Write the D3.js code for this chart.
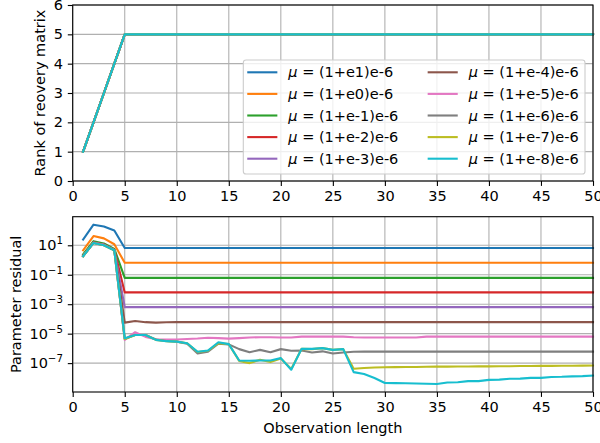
<!DOCTYPE html>
<html>
<head>
<meta charset="utf-8">
<script src="https://cdn.jsdelivr.net/npm/d3@7"></script>
<style>
    body { margin: 0; background: #fff; }
    svg { font-family: "DejaVu Sans", sans-serif; }
</style>
</head>
<body>
<div id="chart"></div>
<script>
// observation lengths (x values)
const obsLength = [1, 2, 3, 4, 5, 6, 7, 8, 9, 10,
    11, 12, 13, 14, 15, 16, 17, 18, 19, 20,
    21, 22, 23, 24, 25, 26, 27, 28, 29, 30,
    31, 32, 33, 34, 35, 36, 37, 38, 39, 40,
    41, 42, 43, 44, 45, 46, 47, 48, 49, 50]

// rank of recovery matrix, same for every mu
const rankOfRecovery = [1, 2, 3, 4, 5, 5, 5, 5, 5, 5,
    5, 5, 5, 5, 5, 5, 5, 5, 5, 5,
    5, 5, 5, 5, 5, 5, 5, 5, 5, 5,
    5, 5, 5, 5, 5, 5, 5, 5, 5, 5,
    5, 5, 5, 5, 5, 5, 5, 5, 5, 5]

const muLabels = ["(1+e1)e-6", "(1+e0)e-6", "(1+e-1)e-6", "(1+e-2)e-6", "(1+e-3)e-6",
    "(1+e-4)e-6", "(1+e-5)e-6", "(1+e-6)e-6", "(1+e-7)e-6", "(1+e-8)e-6"]

// parameter residual, stored as log10 values
const residualLogE1 = [1.39, 2.40, 2.28, 2.01, 0.82, 0.82, 0.82, 0.82, 0.82, 0.82,
    0.82, 0.82, 0.82, 0.82, 0.82, 0.82, 0.82, 0.82, 0.82, 0.82,
    0.82, 0.82, 0.82, 0.82, 0.82, 0.82, 0.82, 0.82, 0.82, 0.82,
    0.82, 0.82, 0.82, 0.82, 0.82, 0.82, 0.82, 0.82, 0.82, 0.82,
    0.82, 0.82, 0.82, 0.82, 0.82, 0.82, 0.82, 0.82, 0.82, 0.82]
const residualLogE0 = [0.66, 1.63, 1.47, 1.07, -0.19, -0.19, -0.19, -0.19, -0.19, -0.19,
    -0.19, -0.19, -0.19, -0.19, -0.19, -0.19, -0.19, -0.19, -0.19, -0.19,
    -0.19, -0.19, -0.19, -0.19, -0.19, -0.19, -0.19, -0.19, -0.19, -0.19,
    -0.19, -0.19, -0.19, -0.19, -0.19, -0.19, -0.19, -0.19, -0.19, -0.19,
    -0.19, -0.19, -0.19, -0.19, -0.19, -0.19, -0.19, -0.19, -0.19, -0.19]
const residualLogEm1 = [0.38, 1.28, 1.12, 0.76, -1.21, -1.21, -1.21, -1.21, -1.21, -1.21,
    -1.21, -1.21, -1.21, -1.21, -1.21, -1.21, -1.21, -1.21, -1.21, -1.21,
    -1.21, -1.21, -1.21, -1.21, -1.21, -1.21, -1.21, -1.21, -1.21, -1.21,
    -1.21, -1.21, -1.21, -1.21, -1.21, -1.21, -1.21, -1.21, -1.21, -1.21,
    -1.21, -1.21, -1.21, -1.21, -1.21, -1.21, -1.21, -1.21, -1.21, -1.21]
const residualLogEm2 = [0.30, 1.20, 1.06, 0.70, -2.20, -2.20, -2.20, -2.20, -2.20, -2.20,
    -2.20, -2.20, -2.20, -2.20, -2.20, -2.20, -2.20, -2.20, -2.20, -2.20,
    -2.20, -2.20, -2.20, -2.20, -2.20, -2.20, -2.20, -2.20, -2.20, -2.20,
    -2.20, -2.20, -2.20, -2.20, -2.20, -2.20, -2.20, -2.20, -2.20, -2.20,
    -2.20, -2.20, -2.20, -2.20, -2.20, -2.20, -2.20, -2.20, -2.20, -2.20]
const residualLogEm3 = [0.28, 1.18, 1.04, 0.68, -3.20, -3.20, -3.20, -3.20, -3.20, -3.20,
    -3.20, -3.20, -3.20, -3.20, -3.20, -3.20, -3.20, -3.20, -3.20, -3.20,
    -3.20, -3.20, -3.20, -3.20, -3.20, -3.20, -3.20, -3.20, -3.20, -3.20,
    -3.20, -3.20, -3.20, -3.20, -3.20, -3.20, -3.20, -3.20, -3.20, -3.20,
    -3.20, -3.20, -3.20, -3.20, -3.20, -3.20, -3.20, -3.20, -3.20, -3.20]
const residualLogEm4 = [0.27, 1.17, 1.03, 0.67, -4.25, -4.14, -4.22, -4.25, -4.23, -4.22,
    -4.22, -4.22, -4.22, -4.22, -4.22, -4.22, -4.22, -4.22, -4.22, -4.22,
    -4.22, -4.22, -4.22, -4.22, -4.22, -4.22, -4.22, -4.22, -4.22, -4.22,
    -4.22, -4.22, -4.22, -4.22, -4.22, -4.22, -4.22, -4.22, -4.22, -4.22,
    -4.22, -4.22, -4.22, -4.22, -4.22, -4.22, -4.22, -4.22, -4.22, -4.22]
const residualLogEm5 = [0.27, 1.17, 1.03, 0.67, -5.42, -4.90, -5.22, -5.38, -5.40, -5.40,
    -5.36, -5.33, -5.28, -5.30, -5.34, -5.30, -5.26, -5.24, -5.24, -5.26,
    -5.26, -5.20, -5.20, -5.20, -5.20, -5.20, -5.24, -5.26, -5.26, -5.26,
    -5.26, -5.26, -5.26, -5.20, -5.20, -5.20, -5.20, -5.20, -5.20, -5.20,
    -5.20, -5.20, -5.20, -5.20, -5.20, -5.20, -5.20, -5.20, -5.20, -5.20]
const residualLogEm6 = [0.26, 1.16, 1.00, 0.66, -5.36, -5.09, -5.09, -5.40, -5.50, -5.54,
    -5.68, -6.35, -6.22, -5.68, -5.73, -6.05, -6.26, -6.10, -6.26, -6.05,
    -6.16, -6.14, -6.28, -6.20, -6.35, -6.28, -6.23, -6.22, -6.22, -6.22,
    -6.22, -6.22, -6.22, -6.22, -6.22, -6.22, -6.22, -6.22, -6.22, -6.22,
    -6.22, -6.22, -6.22, -6.22, -6.22, -6.22, -6.22, -6.22, -6.22, -6.22]
const residualLogEm7 = [0.26, 1.16, 1.00, 0.66, -5.36, -5.09, -5.09, -5.42, -5.51, -5.54,
    -5.65, -6.25, -6.16, -5.65, -5.71, -6.85, -7.00, -6.77, -6.93, -6.68,
    -7.40, -6.03, -6.05, -5.98, -6.10, -6.05, -7.38, -7.33, -7.30, -7.28,
    -7.27, -7.26, -7.26, -7.25, -7.24, -7.24, -7.23, -7.23, -7.22, -7.22,
    -7.21, -7.21, -7.20, -7.20, -7.19, -7.19, -7.18, -7.18, -7.17, -7.16]
const residualLogEm8 = [0.26, 1.16, 1.00, 0.66, -5.31, -5.09, -5.09, -5.42, -5.51, -5.54,
    -5.65, -6.23, -6.14, -5.58, -5.71, -6.82, -6.84, -6.82, -6.82, -6.66,
    -7.45, -6.03, -6.03, -5.98, -6.10, -6.05, -7.61, -7.74, -8.01, -8.35,
    -8.36, -8.37, -8.38, -8.40, -8.42, -8.32, -8.30, -8.22, -8.22, -8.14,
    -8.12, -8.06, -8.05, -8.00, -8.00, -7.94, -7.93, -7.90, -7.88, -7.84]

const xTicks = [0, 5, 10, 15, 20, 25, 30, 35, 40, 45, 50]
const rankTicks = [0, 1, 2, 3, 4, 5, 6]
const residualTicks = [1e1, 1e-1, 1e-3, 1e-5, 1e-7]

const colors = ["#1f77b4", "#ff7f0e", "#2ca02c", "#d62728", "#9467bd",
    "#8c564b", "#e377c2", "#7f7f7f", "#bcbd22", "#17becf"]

const residualLogs = [residualLogE1, residualLogE0, residualLogEm1, residualLogEm2, residualLogEm3,
    residualLogEm4, residualLogEm5, residualLogEm6, residualLogEm7, residualLogEm8]

const series = muLabels.map((label, i) => ({
    label: label,
    color: colors[i],
    rank: obsLength.map((x, j) => ({x: x, y: rankOfRecovery[j]})),
    residual: obsLength.map((x, j) => ({x: x, y: Math.pow(10, residualLogs[i][j])}))
}))

const width = 600, height = 443
const fontSize = 14.5
const tickLen = 4.9
const lineW = 2.1
const left = 72.7, right = 593

const svg = d3.select("#chart").append("svg")
    .attr("width", width)
    .attr("height", height)

function styleAxis(g) {
    g.select(".domain").remove()
    g.selectAll(".tick line").attr("stroke", "#000").attr("stroke-width", 1.1)
    g.selectAll(".tick text").attr("font-size", fontSize).attr("fill", "#000")
        .attr("font-family", "DejaVu Sans, sans-serif")
}

function drawPanel(top, bottom, y, yTicks, yFormat, key, yLabel, yLabelX) {
    const x = d3.scaleLinear().domain([0, 50]).range([left, right])
    const panel = svg.append("g")

    // grid
    panel.append("g").selectAll("line").data(xTicks).join("line")
        .attr("x1", d => x(d)).attr("x2", d => x(d))
        .attr("y1", top).attr("y2", bottom)
        .attr("stroke", "#b0b0b0").attr("stroke-width", 1.1)
    panel.append("g").selectAll("line").data(yTicks).join("line")
        .attr("x1", left).attr("x2", right)
        .attr("y1", d => y(d)).attr("y2", d => y(d))
        .attr("stroke", "#b0b0b0").attr("stroke-width", 1.1)

    const line = d3.line().x(d => x(d.x)).y(d => y(d.y))
    panel.append("g").selectAll("path").data(series).join("path")
        .attr("fill", "none")
        .attr("stroke", d => d.color)
        .attr("stroke-width", lineW)
        .attr("stroke-linejoin", "round")
        .attr("stroke-linecap", "square")
        .attr("d", d => line(d[key]))

    // spines
    panel.append("rect")
        .attr("x", left).attr("y", top)
        .attr("width", right - left).attr("height", bottom - top)
        .attr("fill", "none").attr("stroke", "#000").attr("stroke-width", 1.1)

    panel.append("g")
        .attr("transform", `translate(0,${bottom})`)
        .call(d3.axisBottom(x).tickValues(xTicks).tickSize(tickLen).tickPadding(4.6).tickFormat(d3.format("d")))
        .call(styleAxis)

    const yAxis = panel.append("g")
        .attr("transform", `translate(${left},0)`)
        .call(d3.axisLeft(y).tickValues(yTicks).tickSize(tickLen).tickPadding(4.9).tickFormat(yFormat))
        .call(styleAxis)

    panel.append("text")
        .attr("transform", `translate(${yLabelX},${(top + bottom) / 2}) rotate(-90)`)
        .attr("text-anchor", "middle")
        .attr("dominant-baseline", "central")
        .attr("font-size", fontSize)
        .text(yLabel)
    return {x: x, yAxis: yAxis}
}

// top panel: rank
const yRank = d3.scaleLinear().domain([0, 6]).range([181, 5])
drawPanel(5, 181, yRank, rankTicks, d3.format("d"), "rank", "Rank of reovery matrix", 40)

// bottom panel: residual, log scale with 5% margin in log space
const allLogs = residualLogs.flat()
const logExt = d3.extent(allLogs)
const pad = (logExt[1] - logExt[0]) * 0.05
const yRes = d3.scaleLog()
    .domain([Math.pow(10, logExt[0] - pad), Math.pow(10, logExt[1] + pad)])
    .range([392, 216.7])
const bottomPanel = drawPanel(216.7, 392, yRes, residualTicks, d => "", "residual", "Parameter residual", 16)

// superscript tick labels 10^n
bottomPanel.yAxis.selectAll(".tick text").each(function (d) {
    const t = d3.select(this)
    const exp = Math.round(Math.log10(d))
    t.text(null)
    t.append("tspan").text("10")
    t.append("tspan").attr("dy", -6).attr("font-size", 10.2)
        .text(exp < 0 ? "\u2212" + (-exp) : String(exp))
})

svg.append("text")
    .attr("x", (left + right) / 2)
    .attr("y", 433)
    .attr("text-anchor", "middle")
    .attr("font-size", fontSize)
    .text("Observation length")

// legend
const legend = svg.append("g")
legend.append("rect")
    .attr("x", 243.3).attr("y", 60)
    .attr("width", 585 - 243.3).attr("height", 114)
    .attr("rx", 2.8)
    .attr("fill", "#fff").attr("fill-opacity", 0.8)
    .attr("stroke", "#cccccc").attr("stroke-width", 1.1)

const legendItems = legend.selectAll("g.item").data(series).join("g")
    .attr("class", "item")
    .attr("transform", (d, i) => `translate(${i < 5 ? 248.3 : 428.7},${72.3 + (i % 5) * 21.6})`)
legendItems.append("line")
    .attr("x1", 0).attr("x2", 28)
    .attr("stroke", d => d.color)
    .attr("stroke-width", lineW)
    .attr("stroke-linecap", "square")
const legendText = legendItems.append("text")
    .attr("x", 40)
    .attr("dy", "0.35em")
    .attr("font-size", fontSize)
legendText.append("tspan").attr("font-style", "italic").text("\u03bc")
legendText.append("tspan").text(d => " = " + d.label)
</script>
</body>
</html>
